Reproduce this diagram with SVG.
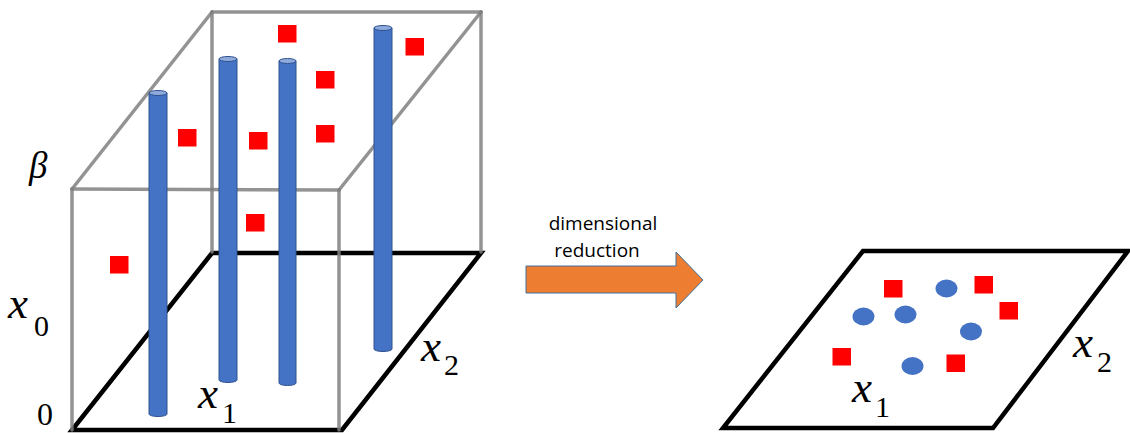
<svg xmlns="http://www.w3.org/2000/svg" width="1130" height="433" viewBox="0 0 1130 433">
<defs>
<style>
.box{fill:none;stroke:#808080;stroke-width:3.5;stroke-opacity:0.85;stroke-linecap:round}
.base{fill:none;stroke:#000;stroke-width:4.5;stroke-linejoin:miter}
.sq{fill:#ff0000}
.dot{fill:#4472c4}
.cyl{fill:#4472c4;stroke:#2f528f;stroke-width:1}
.cap{fill:#8faadc;stroke:#2f528f;stroke-width:1}
.m{font-family:"Liberation Serif",serif;font-style:italic;fill:#000}
.n{font-family:"Liberation Serif",serif;fill:#000}
.lbl{font-family:"Open Sans","Liberation Sans",sans-serif;font-size:19px;fill:#000;text-anchor:middle}
</style>
</defs>
<rect width="1130" height="433" fill="#fff"/>
<g id="cube">
<path class="base" d="M72,430 L342,430 L481,253 L212,253 Z"/>
<g class="box">
<line x1="72" y1="189" x2="72" y2="430"/>
<line x1="339" y1="190" x2="339" y2="430"/>
<line x1="212" y1="12" x2="212" y2="252"/>
<line x1="481" y1="12" x2="481" y2="252"/>
<line x1="72" y1="189" x2="339" y2="190"/>
<line x1="212" y1="12" x2="481" y2="12"/>
<line x1="72" y1="189" x2="212" y2="12"/>
<line x1="339" y1="190" x2="481" y2="12"/>
</g>
</g>
<g id="cylinders">
<g id="cyl1"><path class="cyl" d="M149,93 V414 A9,2.5 0 0 0 167,414 V93 Z"/><ellipse class="cap" cx="158" cy="93" rx="9" ry="2.5"/></g>
<g id="cyl2"><path class="cyl" d="M219,59 V380 A9,2.5 0 0 0 237,380 V59 Z"/><ellipse class="cap" cx="228" cy="59" rx="9" ry="2.5"/></g>
<g id="cyl3"><path class="cyl" d="M279,61 V383 A8.5,2.5 0 0 0 296,383 V61 Z"/><ellipse class="cap" cx="287.5" cy="61" rx="8.5" ry="2.5"/></g>
<g id="cyl4"><path class="cyl" d="M374,28 V349 A9,2.5 0 0 0 392,349 V28 Z"/><ellipse class="cap" cx="383" cy="28" rx="9" ry="2.5"/></g>
</g>
<g id="points3d">
<rect class="sq" x="278" y="25" width="18.5" height="17.5"/>
<rect class="sq" x="405.5" y="38" width="18.5" height="17.5"/>
<rect class="sq" x="316" y="71" width="18.5" height="17.5"/>
<rect class="sq" x="178" y="129" width="18.5" height="17.5"/>
<rect class="sq" x="249" y="132" width="18.5" height="17.5"/>
<rect class="sq" x="316" y="125" width="18.5" height="17.5"/>
<rect class="sq" x="246" y="214" width="18.5" height="17.5"/>
<rect class="sq" x="110" y="256" width="18.5" height="17.5"/>
</g>
<g id="labels3d">
<text class="m" x="29" y="178" font-size="37">β</text>
<text class="m" x="8" y="318" font-size="45">x</text>
<text class="n" x="34" y="336" font-size="30">0</text>
<text class="n" x="37" y="425" font-size="32">0</text>
<text class="m" x="198" y="408" font-size="45">x</text>
<text class="n" x="222" y="423" font-size="30">1</text>
<text class="m" x="421" y="361" font-size="45">x</text>
<text class="n" x="444" y="375" font-size="30">2</text>
</g>
<g id="connectors">
<g id="arrow">
<path d="M526,266 H676 V252 L703,280 L676,308 V293 H526 Z" fill="#ed7d31" stroke="#41719c" stroke-width="1"/>
<text class="lbl" x="603" y="230">dimensional</text>
<text class="lbl" x="597" y="257">reduction</text>
</g>
</g>
<g id="plane">
<path class="base" d="M723,428 L993,428 L1128,251 L863,251 Z"/>
<ellipse class="dot" cx="946.5" cy="288.5" rx="11" ry="9"/>
<ellipse class="dot" cx="863.5" cy="316.5" rx="11" ry="9"/>
<ellipse class="dot" cx="905.5" cy="314.5" rx="11" ry="9"/>
<ellipse class="dot" cx="971" cy="331.5" rx="11" ry="9"/>
<ellipse class="dot" cx="912.5" cy="366" rx="11" ry="9"/>
<rect class="sq" x="884" y="280" width="18.5" height="17.5"/>
<rect class="sq" x="974.5" y="276" width="18.5" height="17.5"/>
<rect class="sq" x="999.5" y="302" width="18.5" height="17.5"/>
<rect class="sq" x="832.5" y="348" width="18.5" height="17.5"/>
<rect class="sq" x="946.5" y="354.5" width="18.5" height="17.5"/>
<text class="m" x="852" y="402" font-size="45">x</text>
<text class="n" x="875" y="417" font-size="30">1</text>
<text class="m" x="1073" y="357" font-size="45">x</text>
<text class="n" x="1097" y="372" font-size="30">2</text>
</g>
</svg>
